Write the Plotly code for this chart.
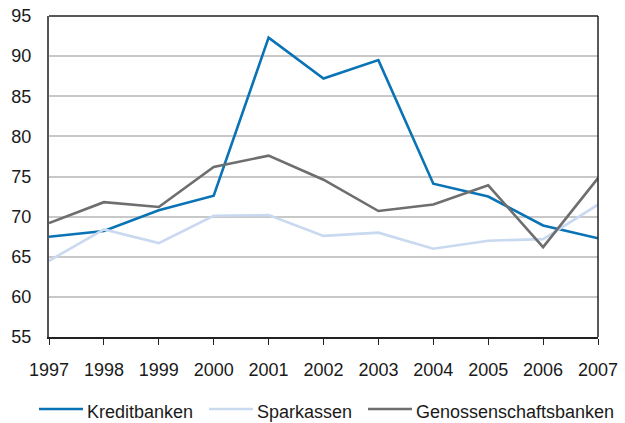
import plotly.graph_objects as go

years = [1997, 1998, 1999, 2000, 2001, 2002, 2003, 2004, 2005, 2006, 2007]
kreditbanken = [67.5, 68.2, 70.8, 72.6, 92.3, 87.2, 89.5, 74.1, 72.5, 68.9, 67.3]
sparkassen = [64.5, 68.4, 66.7, 70.1, 70.2, 67.6, 68.0, 66.0, 67.0, 67.2, 71.5]
genossenschaftsbanken = [69.2, 71.8, 71.2, 76.2, 77.6, 74.6, 70.7, 71.5, 73.9, 66.2, 74.8]

series = [
    ("Kreditbanken", kreditbanken, "#0a73b5"),
    ("Sparkassen", sparkassen, "#c8d9f0"),
    ("Genossenschaftsbanken", genossenschaftsbanken, "#6e6e6e"),
]

W, H = 625, 423
ML, MR, MT, MB = 49, 27, 16, 86
PW, PH = W - ML - MR, H - MT - MB

def px_x(p):
    return (p - ML) / PW

def px_y(p):
    return (H - MB - p) / PH

fig = go.Figure()
for name, vals, col in series:
    fig.add_trace(go.Scatter(x=years, y=vals, mode="lines", name=name,
                             line=dict(color=col, width=2.6), showlegend=False))

# manual legend (line sample + label)
legend_starts = [39, 209, 368]
for (name, vals, col), x0 in zip(series, legend_starts):
    fig.add_shape(type="line", xref="paper", yref="paper",
                  x0=px_x(x0), x1=px_x(x0 + 44), y0=px_y(409), y1=px_y(409),
                  line=dict(color=col, width=2.6))
    fig.add_annotation(xref="paper", yref="paper", x=px_x(x0 + 46), y=px_y(412),
                       text=name, showarrow=False, xanchor="left", yanchor="middle",
                       font=dict(family="Liberation Sans", size=18, color="#1a1a1a"))

font = dict(family="Liberation Sans", size=18, color="#1a1a1a")
fig.update_layout(
    width=W, height=H,
    margin=dict(l=ML, r=MR, t=MT, b=MB, autoexpand=False),
    plot_bgcolor="white", paper_bgcolor="white",
    font=font,
    showlegend=False,
    xaxis=dict(range=[1997, 2007], tickmode="array", tickvals=years,
               showgrid=False, zeroline=False, automargin=False,
               showline=True, linecolor="#222", linewidth=1.5,
               ticks="outside", ticklen=6, tickcolor="#222", tickwidth=1.2,
               ticklabelstandoff=10, mirror=False),
    yaxis=dict(range=[55, 95], tickmode="array", tickvals=list(range(55, 96, 5)),
               showgrid=True, gridcolor="#c8c8c8", gridwidth=1.5, zeroline=False,
               automargin=False,
               showline=True, linecolor="#555", linewidth=2,
               ticks="", ticklabelstandoff=12),
)
fig.add_shape(type="line", xref="paper", yref="paper", x0=0, x1=1, y0=1, y1=1,
              line=dict(color="#222", width=1.5))
fig.add_shape(type="line", xref="paper", yref="paper", x0=1, x1=1, y0=0, y1=1,
              line=dict(color="#222", width=1.5))

fig.write_html("out.html", config={"displayModeBar": False},
               post_script="document.body.style.margin='0';document.body.style.overflow='hidden';")
